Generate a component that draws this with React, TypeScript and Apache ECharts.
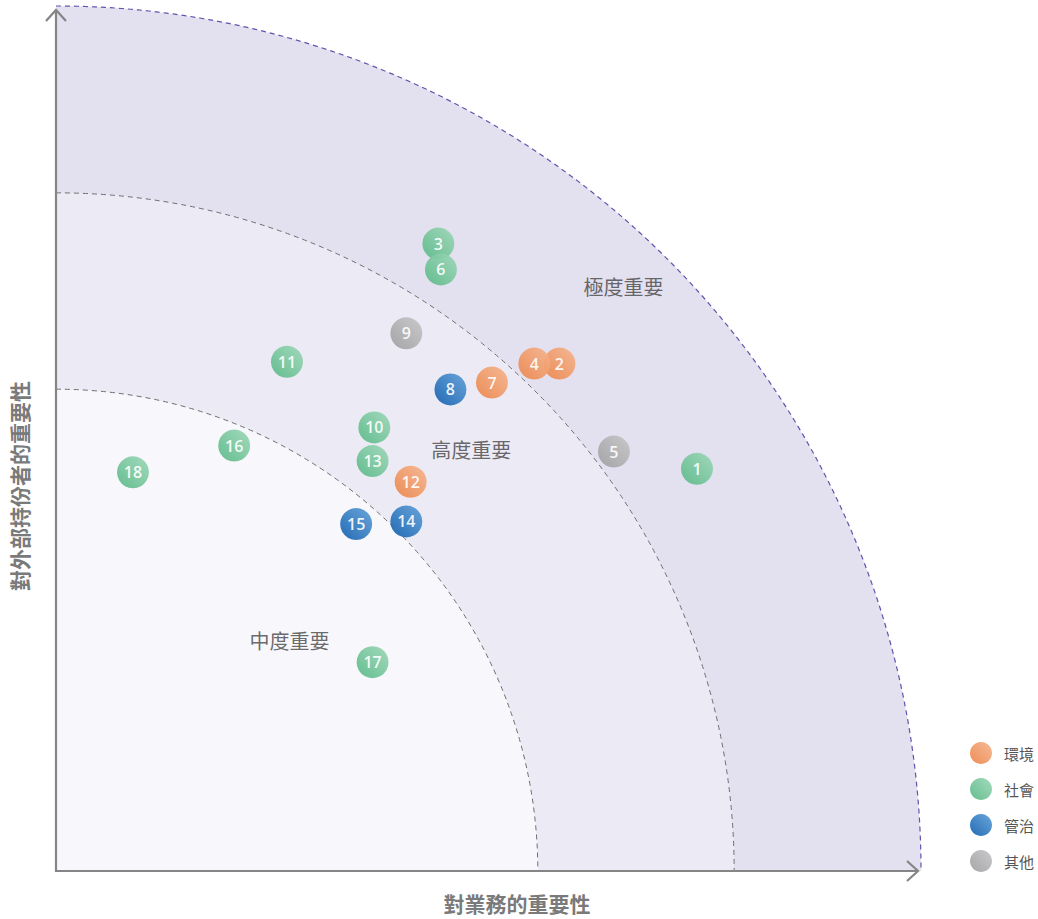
import React, { useEffect, useRef } from "react";
import * as echarts from "echarts";

// ---- data ----
const categories = ["環境", "社會", "管治", "其他"];
const topicIds = [1, 2, 3, 4, 5, 6, 7, 8, 9, 10, 11, 12, 13, 14, 15, 16, 17, 18];
const importanceToBusiness = [7.41, 5.82, 4.42, 5.53, 6.45, 4.45, 5.04, 4.56, 4.05, 3.68, 2.67, 4.10, 3.66, 4.05, 3.47, 2.06, 3.66, 0.89];
const importanceToStakeholders = [4.66, 5.88, 7.27, 5.88, 4.86, 6.97, 5.66, 5.58, 6.23, 5.14, 5.90, 4.51, 4.75, 4.05, 4.02, 4.93, 2.42, 4.62];
const topicCategory = ["社會", "環境", "社會", "環境", "其他", "社會", "環境", "管治", "其他", "社會", "社會", "環境", "社會", "管治", "管治", "社會", "社會", "社會"];

const zoneNames = ["中度重要", "高度重要", "極度重要"];
const zoneRadii = [5.57, 7.84, 10];
const zoneLabelX = [2.70, 4.80, 6.56];
const zoneLabelY = [2.67, 4.88, 6.77];

const xAxisTitle = "對業務的重要性";
const yAxisTitle = "對外部持份者的重要性";
const axisMin = 0;
const axisMax = 10;

// ---- styles ----
const catColors: Record<string, [string, string]> = {
  "環境": ["#EC8448", "#F5B48D"],
  "社會": ["#58B886", "#9CD7B7"],
  "管治": ["#1260AE", "#5E9ED7"],
  "其他": ["#9E9EA0", "#C6C6C8"],
};
const zoneFills = ["#F8F7FC", "#ECEAF5", "#E3E0F0"];
const zoneStrokes = ["#6E6E6E", "#6E6E6E", "#5F55AC"];
const CJK = '"Noto Sans CJK TC", "Noto Sans", sans-serif';

function grad(c: [string, string]) {
  return new echarts.graphic.LinearGradient(0, 1, 1, 0, [
    { offset: 0, color: c[0] },
    { offset: 1, color: c[1] },
  ]);
}

export default function App() {
  const ref = useRef<HTMLDivElement>(null);

  useEffect(() => {
    if (!ref.current) return;
    const chart = echarts.init(ref.current, null, { renderer: "svg" });

    const pointSeries = categories.map((cat) => ({
      type: "scatter",
      name: cat,
      symbol: "circle",
      symbolSize: 32,
      z: 5,
      itemStyle: { color: grad(catColors[cat]), opacity: 0.92 },
      label: {
        show: true,
        position: "inside",
        color: "#ffffff",
        fontSize: 16,
        fontWeight: 600,
        fontFamily: '"Open Sans", sans-serif',
        formatter: (p: any) => String(p.value[2]),
      },
      data: topicIds
        .map((id, i) => ({ id, i }))
        .filter((o) => topicCategory[o.i] === cat)
        .map((o) => [importanceToBusiness[o.i], importanceToStakeholders[o.i], o.id]),
    }));

    const axisCommon = {
      type: "value",
      min: axisMin,
      max: axisMax,
      axisTick: { show: false },
      axisLabel: { show: false },
      splitLine: { show: false },
      axisLine: { show: false },
    };

    chart.setOption({
      animation: false,
      backgroundColor: "#ffffff",
      grid: { left: 56, top: 8, width: 865, height: 863 },
      xAxis: axisCommon,
      yAxis: axisCommon,
      legend: {
        data: categories,
        orient: "vertical",
        left: 965,
        top: 737,
        itemWidth: 22,
        itemHeight: 22,
        itemGap: 14,
        icon: "circle",
        textStyle: { color: "#555555", fontSize: 15, fontFamily: CJK, padding: [0, 0, 0, 7] },
      },
      graphic: [
        {
          type: "text",
          x: 517,
          y: 903,
          style: {
            text: xAxisTitle,
            fill: "#7A7A7A",
            font: `bold 21px ${CJK}`,
            align: "center",
            verticalAlign: "middle",
          },
        },
        {
          type: "text",
          x: 19,
          y: 486,
          rotation: Math.PI / 2,
          style: {
            text: yAxisTitle,
            fill: "#7A7A7A",
            font: `bold 21px ${CJK}`,
            align: "center",
            verticalAlign: "middle",
          },
        },
      ],
      series: [
        {
          type: "custom",
          name: "bands",
          silent: true,
          z: 1,
          clip: false,
          data: zoneRadii.map((r) => [r, 0]),
          renderItem: (params: any, api: any) => {
            const idx = params.dataIndex;
            const c = api.coord([0, 0]);
            const r = api.coord([zoneRadii[idx], 0])[0] - c[0];
            const r0 = idx > 0 ? api.coord([zoneRadii[idx - 1], 0])[0] - c[0] : 0;
            return {
              type: "sector",
              shape: { cx: c[0], cy: c[1], r0, r, startAngle: -Math.PI / 2, endAngle: 0, clockwise: true },
              style: { fill: zoneFills[idx], stroke: "none" },
            };
          },
        },
        {
          type: "custom",
          name: "arcs",
          silent: true,
          z: 2,
          clip: false,
          data: zoneRadii.map((r) => [r, 0]),
          renderItem: (params: any, api: any) => {
            const idx = params.dataIndex;
            const c = api.coord([0, 0]);
            const r = api.coord([zoneRadii[idx], 0])[0] - c[0];
            return {
              type: "arc",
              shape: { cx: c[0], cy: c[1], r, startAngle: -Math.PI / 2, endAngle: 0, clockwise: true },
              style: { fill: "none", stroke: zoneStrokes[idx], lineWidth: idx === 2 ? 1.2 : 1, lineDash: [5, 4] },
            };
          },
        },
        {
          type: "custom",
          name: "axes",
          silent: true,
          z: 4,
          clip: false,
          data: [[0, 0]],
          renderItem: (params: any, api: any) => {
            const o = api.coord([axisMin, axisMin]);
            const yEnd = api.coord([axisMin, axisMax]);
            const xEnd = api.coord([axisMax, axisMin]);
            const yt = [o[0], yEnd[1] + 2];
            const xt = [xEnd[0] - 3, o[1]];
            const st = { fill: "none", stroke: "#858585", lineWidth: 2.2 };
            return {
              type: "group",
              children: [
                { type: "polyline", shape: { points: [yt, o, xt] }, style: st },
                { type: "polyline", shape: { points: [[yt[0] - 10, yt[1] + 11], yt, [yt[0] + 10, yt[1] + 11]] }, style: st },
                { type: "polyline", shape: { points: [[xt[0] - 11, xt[1] - 10], xt, [xt[0] - 11, xt[1] + 10]] }, style: st },
              ],
            };
          },
        },
        {
          type: "scatter",
          name: "zones",
          silent: true,
          z: 3,
          symbolSize: 1,
          itemStyle: { color: "rgba(0,0,0,0)" },
          label: {
            show: true,
            position: "inside",
            formatter: "{b}",
            color: "#444444",
            fontSize: 20,
            fontFamily: CJK,
          },
          data: zoneNames.map((n, i) => ({ name: n, value: [zoneLabelX[i], zoneLabelY[i]] })),
        },
        ...pointSeries,
      ],
    });

    return () => chart.dispose();
  }, []);

  return (
    <div
      ref={ref}
      style={{ position: "absolute", left: 0, top: 0, width: 1038, height: 919 }}
    />
  );
}
